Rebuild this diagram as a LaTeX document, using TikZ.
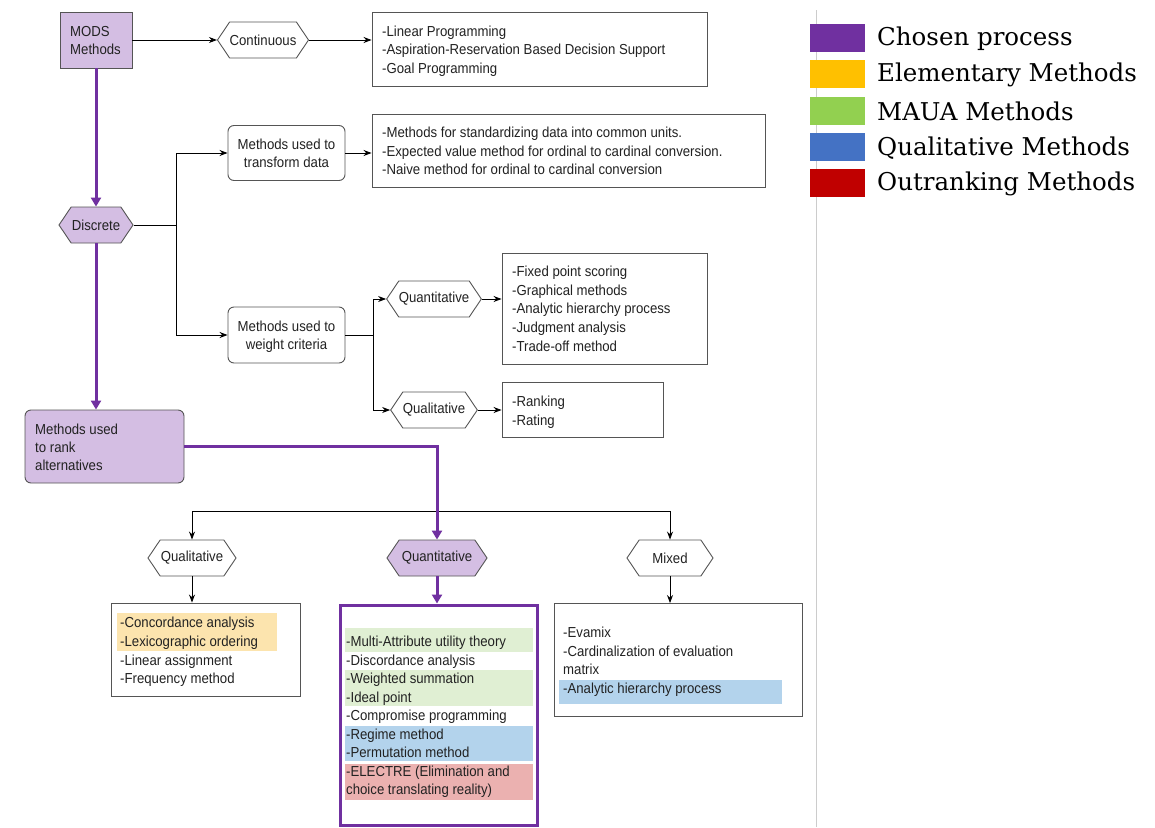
\documentclass[tikz,border=0pt]{standalone}
\usepackage{fontspec}
\setmainfont{Liberation Sans}
\newfontfamily\nar[FakeStretch=0.91]{Liberation Sans}
\newfontfamily\legfont{DejaVu Serif}
\usetikzlibrary{shapes.symbols,arrows.meta}
\definecolor{lpurp}{HTML}{D4BEE3}
\definecolor{dpurp}{HTML}{7030A0}
\definecolor{bordg}{HTML}{555555}
\definecolor{txtc}{HTML}{222222}
\definecolor{hly}{HTML}{FCE4AE}
\definecolor{hlg}{HTML}{E0EFD3}
\definecolor{hlb}{HTML}{B3D3EC}
\definecolor{hlr}{HTML}{EBB1B0}
\definecolor{lgy}{HTML}{FFC000}
\definecolor{lgg}{HTML}{92D050}
\definecolor{lgb}{HTML}{4472C4}
\definecolor{lgr}{HTML}{C00000}
\tikzset{
  txt/.style={font=\nar\fontsize{14.5}{18}\selectfont, text=txtc, inner sep=0pt, text height=10.5pt, text depth=3pt, anchor=west, yshift=-1.5pt},
  ctxt/.style={font=\nar\fontsize{14.5}{18}\selectfont, text=txtc, inner sep=0pt, text height=10.5pt, text depth=3pt, yshift=-1.5pt},
  boxn/.style={draw=bordg, line width=0.9pt, fill=white, inner sep=0pt},
  rboxn/.style={boxn, rounded corners=6pt},
  hexn/.style={signal, signal to=west and east, signal pointer angle=112, draw=bordg, line width=0.9pt, fill=white, inner sep=0pt, minimum height=36pt, font=\nar\fontsize{14.5}{18}\selectfont, text=txtc},
  arr/.style={draw=black, line width=0.9pt, -{Stealth[length=8pt,width=6pt]}},
  ln/.style={draw=black, line width=0.9pt},
  parr/.style={draw=dpurp, line width=3pt, -{Triangle[length=9pt,width=10pt]}},
  pln/.style={draw=dpurp, line width=3pt},
  legbox/.style={inner sep=0pt, minimum width=55pt, minimum height=28pt},
  legtxt/.style={font=\legfont\fontsize{24.5}{27}\selectfont, inner sep=0pt, anchor=west, text=black},
}
\begin{document}
\begin{tikzpicture}[x=1pt,y=-1pt]
\useasboundingbox (0,0) rectangle (1155,827);
\fill[white] (0,0) rectangle (1155,827);
% separator line
\draw[draw=black!20, line width=1pt] (816,10) -- (816,827);

% ---- top row
\node[boxn, fill=lpurp, minimum width=72pt, minimum height=56pt] (mods) at (96,40) {};
\node[txt] (modst1) at (70,31) {MODS};
\node[txt] (modst2) at (70,49) {Methods};
\node[hexn, minimum width=88pt] (cont) at (263,40) {Continuous};
\node[boxn, minimum width=335pt, minimum height=74pt] (b1) at (539.5,49) {};
\node[txt] (b1l1) at (382,31) {-Linear Programming};
\node[txt] (b1l2) at (382,49) {-Aspiration-Reservation Based Decision Support};
\node[txt] (b1l3) at (382,68) {-Goal Programming};

% ---- discrete
\node[hexn, fill=lpurp, minimum width=74pt] (disc) at (96,225) {Discrete};
\coordinate (j1) at (176,225);
\node[rboxn, minimum width=117pt, minimum height=55pt] (trans) at (286.5,153) {};
\node[ctxt] (transt1) at (286.5,144) {Methods used to};
\node[ctxt] (transt2) at (286.5,162) {transform data};
\node[boxn, minimum width=393pt, minimum height=73pt] (b2) at (568.5,150.5) {};
\node[txt] (b2l1) at (382,132) {-Methods for standardizing data into common units.};
\node[txt] (b2l2) at (382,151) {-Expected value method for ordinal to cardinal conversion.};
\node[txt] (b2l3) at (382,169) {-Naive method for ordinal to cardinal conversion};

\node[rboxn, minimum width=117pt, minimum height=56pt] (weight) at (286.5,335) {};
\node[ctxt] (weightt1) at (286.5,326) {Methods used to};
\node[ctxt] (weightt2) at (286.5,344) {weight criteria};
\coordinate (j2) at (373,335);
\node[hexn, minimum width=83pt] (quan1) at (434,299) {Quantitative};
\node[hexn, minimum width=83pt] (qual1) at (434,410) {Qualitative};
\node[boxn, minimum width=205pt, minimum height=111pt] (b3) at (604.5,308.5) {};
\node[txt] (b3l1) at (512,271) {-Fixed point scoring};
\node[txt] (b3l2) at (512,290) {-Graphical methods};
\node[txt] (b3l3) at (512,308) {-Analytic hierarchy process};
\node[txt] (b3l4) at (512,327) {-Judgment analysis};
\node[txt] (b3l5) at (512,346) {-Trade-off method};
\node[boxn, minimum width=161pt, minimum height=55pt] (b4) at (582.5,409.5) {};
\node[txt] (b4l1) at (512,401) {-Ranking};
\node[txt] (b4l2) at (512,420) {-Rating};

% ---- rank alternatives
\node[rboxn, fill=lpurp, minimum width=159pt, minimum height=73pt] (rank) at (104.5,446.5) {};
\node[txt] (rankt1) at (35,429) {Methods used};
\node[txt] (rankt2) at (35,447) {to rank};
\node[txt] (rankt3) at (35,465) {alternatives};

\node[hexn, minimum width=88pt] (qual2) at (192,558) {Qualitative};
\node[hexn, fill=lpurp, minimum width=100pt] (quan2) at (437,558) {Quantitative};
\node[hexn, minimum width=86pt] (mixed) at (670,558) {Mixed};
\coordinate (j3) at (437,511);

% box 5
\node[boxn, minimum width=189pt, minimum height=93pt] (b5) at (205.5,649.5) {};
\fill[hly] (117,613) rectangle (277,651);
\node[txt] (b5l1) at (120,622) {-Concordance analysis};
\node[txt] (b5l2) at (120,641) {-Lexicographic ordering};
\node[txt] (b5l3) at (120,660) {-Linear assignment};
\node[txt] (b5l4) at (120,678) {-Frequency method};

% box 6
\node[draw=dpurp, line width=3pt, fill=white, inner sep=0pt, minimum width=197pt, minimum height=220pt] (b6) at (438.5,715) {};
\fill[hlg] (345,628) rectangle (533,652);
\fill[hlg] (345,670) rectangle (533,706);
\fill[hlb] (345,726) rectangle (533,761);
\fill[hlr] (345,764) rectangle (533,800);
\node[txt] (b6l1) at (346,641) {-Multi-Attribute utility theory};
\node[txt] (b6l2) at (346,660) {-Discordance analysis};
\node[txt] (b6l3) at (346,678) {-Weighted summation};
\node[txt] (b6l4) at (346,697) {-Ideal point};
\node[txt] (b6l5) at (346,715) {-Compromise programming};
\node[txt] (b6l6) at (346,734) {-Regime method};
\node[txt] (b6l7) at (346,752) {-Permutation method};
\node[txt] (b6l8) at (346,771) {-ELECTRE (Elimination and};
\node[txt] (b6l9) at (346,789) {choice translating reality)};

% box 7
\node[boxn, minimum width=248pt, minimum height=113pt] (b7) at (678,660) {};
\fill[hlb] (559,680) rectangle (782,704);
\node[txt] (b7l1) at (563,632) {-Evamix};
\node[txt] (b7l2) at (563,651) {-Cardinalization of evaluation};
\node[txt] (b7l3) at (563,669) {matrix};
\node[txt] (b7l4) at (563,688) {-Analytic hierarchy process};

% ---- connectors
\draw[arr] (mods.east) -- (cont.west);
\draw[arr] (cont.east) -- (cont.east -| b1.west);
\draw[parr] (mods.south) -- (disc.north);
\draw[ln] (disc.east) -- (j1);
\draw[arr] (j1) |- (trans.west);
\draw[arr] (j1) |- (weight.west);
\draw[arr] (trans.east) -- (trans.east -| b2.west);
\draw[ln] (weight.east) -- (j2);
\draw[arr] (j2) |- (quan1.west);
\draw[arr] (j2) |- (qual1.west);
\draw[arr] (quan1.east) -- (quan1.east -| b3.west);
\draw[arr] (qual1.east) -- (qual1.east -| b4.west);
\draw[parr] (disc.south) -- (disc.south |- rank.north);
\draw[arr] (j3) -| (qual2.north);
\draw[arr] (j3) -| (mixed.north);
\draw[parr] (rank.east) -| (quan2.north);
\draw[arr] (qual2.south) -- (qual2.south |- b5.north);
\draw[parr] (quan2.south) -- (quan2.south |- b6.north);
\draw[arr] (mixed.south) -- (mixed.south |- b7.north);

% ---- legend
\node[legbox, fill=dpurp] (lg1) at (837.5,38) {};
\node[legbox, fill=lgy] (lg2) at (837.5,74) {};
\node[legbox, fill=lgg] (lg3) at (837.5,111) {};
\node[legbox, fill=lgb] (lg4) at (837.5,147) {};
\node[legbox, fill=lgr] (lg5) at (837.5,183) {};
\node[legtxt] (lt1) at (877,39) {Chosen process};
\node[legtxt] (lt2) at (877,75) {Elementary Methods};
\node[legtxt] (lt3) at (877,111) {MAUA Methods};
\node[legtxt] (lt4) at (877,148) {Qualitative Methods};
\node[legtxt] (lt5) at (877,184) {Outranking Methods};
\end{tikzpicture}
\end{document}
